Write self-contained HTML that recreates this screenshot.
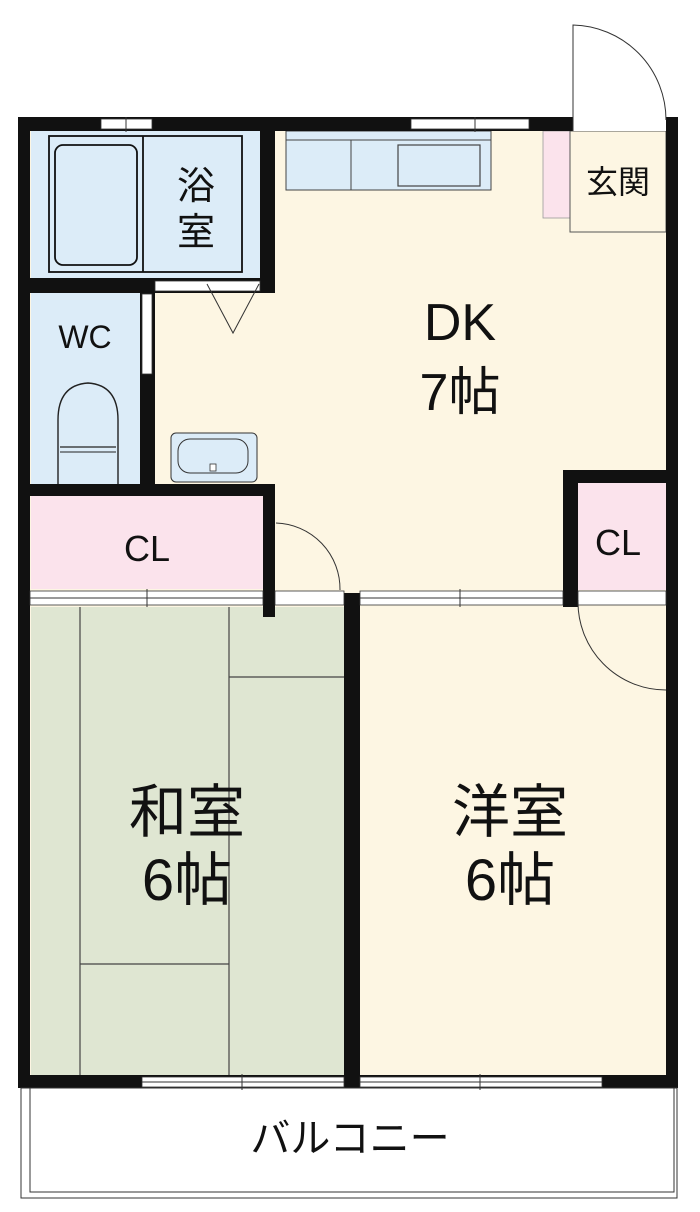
<!DOCTYPE html>
<html><head><meta charset="utf-8"><style>
html,body{margin:0;padding:0;background:#fff}
svg{display:block}
text{font-family:"Liberation Sans","Noto Sans CJK JP",sans-serif;fill:#111;text-anchor:middle}
</style></head><body>
<svg width="700" height="1212" viewBox="0 0 700 1212" xmlns="http://www.w3.org/2000/svg">
<rect x="30" y="130" width="640" height="950" fill="#fdf6e3"/>
<rect x="31" y="131" width="232" height="149" fill="#dcecf8"/>
<rect x="31" y="293" width="110" height="191" fill="#dcecf8"/>
<rect x="31" y="496" width="232" height="93" fill="#fbe3ec"/>
<rect x="578" y="483" width="88" height="107" fill="#fbe3ec"/>
<rect x="543" y="131" width="27" height="87" fill="#fbe3ec" stroke="#999" stroke-width="0.8"/>
<rect x="570" y="131" width="96" height="101" fill="#fdf6e3" stroke="#555" stroke-width="1"/>
<rect x="31" y="607" width="314" height="470" fill="#dfe6d2"/>
<g stroke="#444" stroke-width="1.2" fill="none">
<line x1="80" y1="607" x2="80" y2="1077"/>
<line x1="229" y1="607" x2="229" y2="1077"/>
<line x1="229" y1="677" x2="344" y2="677"/>
<line x1="80" y1="964" x2="229" y2="964"/>
</g>
<rect x="49" y="136" width="193" height="136" fill="none" stroke="#111" stroke-width="1.8"/>
<line x1="143" y1="136" x2="143" y2="272" stroke="#111" stroke-width="1.8"/>
<rect x="55" y="145" width="82" height="120" rx="8" fill="none" stroke="#111" stroke-width="1.8"/>
<rect x="286" y="131" width="205" height="59" fill="#dcecf8" stroke="#444" stroke-width="1"/>
<line x1="286" y1="140" x2="491" y2="140" stroke="#444" stroke-width="1"/>
<line x1="351" y1="140" x2="351" y2="190" stroke="#444" stroke-width="1"/>
<rect x="398" y="145" width="82" height="41" fill="none" stroke="#444" stroke-width="1.2"/>
<path d="M58 484 L58 420 Q58 385 88 383 Q118 385 118 420 L118 484" fill="none" stroke="#222" stroke-width="1.4"/>
<line x1="60" y1="447" x2="116" y2="447" stroke="#222" stroke-width="1.2"/>
<line x1="60" y1="452" x2="116" y2="452" stroke="#222" stroke-width="1"/>
<rect x="171" y="433" width="86" height="49" rx="5" fill="#dcecf8" stroke="#333" stroke-width="1"/>
<rect x="178" y="439" width="70" height="34" rx="12" fill="none" stroke="#333" stroke-width="1"/>
<rect x="210" y="464" width="6" height="7" fill="#fff" stroke="#333" stroke-width="0.8"/>
<g fill="#111">
<rect x="18" y="117" width="12" height="971"/>
<rect x="18" y="117" width="555" height="14"/>
<rect x="666" y="117" width="12" height="971"/>
<rect x="18" y="1075" width="660" height="13"/>
<rect x="260" y="117" width="15" height="176"/>
<rect x="18" y="278" width="257" height="15"/>
<rect x="140" y="278" width="15" height="218"/>
<rect x="18" y="484" width="257" height="12"/>
<rect x="263" y="484" width="12" height="133"/>
<rect x="344" y="593" width="16" height="495"/>
<rect x="563" y="470" width="115" height="13"/>
<rect x="563" y="470" width="15" height="137"/>
</g>
<g fill="#fff" stroke="#333" stroke-width="0.8">
<rect x="101" y="119" width="51" height="10"/>
<rect x="411" y="119" width="118" height="10"/>
<rect x="155" y="281" width="105" height="10"/>
<rect x="142" y="294" width="10" height="80"/>
<rect x="30" y="591" width="233" height="14"/>
<rect x="275" y="591" width="69" height="14"/>
<rect x="360" y="591" width="203" height="14"/>
<rect x="578" y="591" width="88" height="14"/>
<rect x="142" y="1077" width="202" height="10"/>
<rect x="360" y="1077" width="242" height="10"/>
<rect x="573" y="117" width="93" height="14" stroke="none"/>
</g>
<g stroke="#333" stroke-width="1" fill="none">
<line x1="126" y1="117" x2="126" y2="132"/>
<line x1="475" y1="117" x2="475" y2="132"/>
<line x1="147" y1="589" x2="147" y2="607"/>
<line x1="460" y1="589" x2="460" y2="607"/>
<line x1="242" y1="1074" x2="242" y2="1090"/>
<line x1="480" y1="1074" x2="480" y2="1090"/>
<line x1="30" y1="598" x2="263" y2="598"/>
<line x1="360" y1="598" x2="563" y2="598"/>
<line x1="142" y1="1082" x2="344" y2="1082"/>
<line x1="360" y1="1082" x2="602" y2="1082"/>
<path d="M573 131 L573 25 A95 95 0 0 1 666 120"/>
<path d="M207 284 L233 333 L259 284"/>
<path d="M276 523 A66 66 0 0 1 340 590"/>
<path d="M578 600 A88 88 0 0 0 666 690"/>
</g>
<rect x="21" y="1088" width="656" height="110" fill="none" stroke="#333" stroke-width="1"/>
<rect x="30" y="1088" width="644" height="104" fill="none" stroke="#333" stroke-width="1"/>
<text x="196" y="199" font-size="38">浴</text>
<text x="196" y="245" font-size="38">室</text>
<text x="618" y="193" font-size="32">玄関</text>
<text x="85" y="348" font-size="32">WC</text>
<text x="460" y="340" font-size="52">DK</text>
<text x="460" y="410" font-size="52">7帖</text>
<text x="147" y="561" font-size="36">CL</text>
<text x="618" y="555" font-size="36">CL</text>
<text x="187" y="832" font-size="58">和室</text>
<text x="187" y="900" font-size="58">6帖</text>
<text x="510" y="832" font-size="58">洋室</text>
<text x="510" y="900" font-size="58">6帖</text>
<text x="350" y="1152" font-size="40">バルコニー</text>
</svg>
</body></html>
